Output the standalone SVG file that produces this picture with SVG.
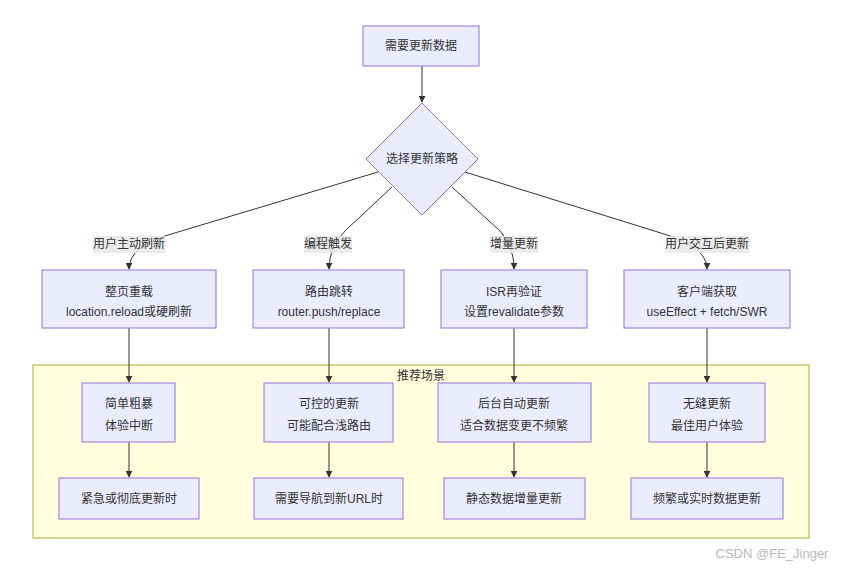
<svg xmlns="http://www.w3.org/2000/svg" width="846" height="569" viewBox="0 0 846 569">
<style>
text{font-family:"Liberation Sans","Noto Sans CJK SC",sans-serif;font-size:12px;fill:#333;text-anchor:middle;dominant-baseline:central}
.n{fill:#ECECFF;stroke:#9370DB;stroke-width:1}
.e{fill:none;stroke:#333;stroke-width:1}
.lb{fill:#e8e8e8;opacity:0.85}
</style>
<defs>
<marker id="ah" viewBox="0 0 10 10" refX="9" refY="5" markerWidth="7" markerHeight="7" orient="auto" markerUnits="userSpaceOnUse">
<path d="M0,0 L10,5 L0,10 z" fill="#333"/>
</marker>
</defs>
<rect width="846" height="569" fill="#fff"/>
<g id="cluster">
<rect x="33" y="365" width="776" height="173" fill="#ffffde" stroke="#aaaa33" stroke-width="1"/>
<text x="421" y="376">推荐场景</text>
</g>
<g id="connectors">
<path class="e" d="M422,66 L422,102" marker-end="url(#ah)"/>
<path class="e" d="M378,172 L168,235 Q129,247 129,269" marker-end="url(#ah)"/>
<path class="e" d="M392,187 L346,230 Q329,246 329,269" marker-end="url(#ah)"/>
<path class="e" d="M452,187 L500,231 Q514,246 514,269" marker-end="url(#ah)"/>
<path class="e" d="M465,172 L664,234 Q707,247 707,269" marker-end="url(#ah)"/>
<path class="e" d="M129,328 L129,382" marker-end="url(#ah)"/>
<path class="e" d="M329,328 L329,382" marker-end="url(#ah)"/>
<path class="e" d="M514,328 L514,382" marker-end="url(#ah)"/>
<path class="e" d="M707,328 L707,382" marker-end="url(#ah)"/>
<path class="e" d="M129,442 L129,477" marker-end="url(#ah)"/>
<path class="e" d="M329,442 L329,477" marker-end="url(#ah)"/>
<path class="e" d="M514,442 L514,477" marker-end="url(#ah)"/>
<path class="e" d="M707,442 L707,477" marker-end="url(#ah)"/>
<rect class="lb" x="93" y="236" width="72" height="17"/>
<text x="129" y="244">用户主动刷新</text>
<rect class="lb" x="304" y="236" width="48" height="17"/>
<text x="328" y="244">编程触发</text>
<rect class="lb" x="490" y="236" width="48" height="17"/>
<text x="514" y="244">增量更新</text>
<rect class="lb" x="666" y="236" width="83" height="17"/>
<text x="707" y="244">用户交互后更新</text>
</g>
<g id="start"><rect class="n" x="363" y="26" width="116" height="40"/><text x="421" y="46">需要更新数据</text></g>
<g id="decide"><polygon class="n" points="422,103 478,159 422,215 366,159"/><text x="422" y="159">选择更新策略</text></g>
<g id="reload"><rect class="n" x="42" y="270" width="174" height="58"/><text x="129" y="292">整页重载</text><text x="129" y="312">location.reload或硬刷新</text></g>
<g id="router"><rect class="n" x="253" y="270" width="151" height="58"/><text x="329" y="292">路由跳转</text><text x="329" y="312">router.push/replace</text></g>
<g id="isr"><rect class="n" x="441" y="270" width="146" height="58"/><text x="514" y="292">ISR再验证</text><text x="514" y="312">设置revalidate参数</text></g>
<g id="client"><rect class="n" x="624" y="270" width="166" height="58"/><text x="707" y="292">客户端获取</text><text x="707" y="312">useEffect + fetch/SWR</text></g>
<g id="p1"><rect class="n" x="82" y="383" width="93" height="59"/><text x="129" y="404">简单粗暴</text><text x="129" y="426">体验中断</text></g>
<g id="p2"><rect class="n" x="264" y="383" width="129" height="59"/><text x="329" y="404">可控的更新</text><text x="329" y="426">可能配合浅路由</text></g>
<g id="p3"><rect class="n" x="438" y="383" width="153" height="59"/><text x="514" y="404">后台自动更新</text><text x="514" y="426">适合数据变更不频繁</text></g>
<g id="p4"><rect class="n" x="649" y="383" width="116" height="59"/><text x="707" y="404">无缝更新</text><text x="707" y="426">最佳用户体验</text></g>
<g id="s1"><rect class="n" x="59" y="478" width="140" height="41"/><text x="129" y="499">紧急或彻底更新时</text></g>
<g id="s2"><rect class="n" x="254" y="478" width="149" height="41"/><text x="329" y="499">需要导航到新URL时</text></g>
<g id="s3"><rect class="n" x="444" y="478" width="141" height="41"/><text x="514" y="499">静态数据增量更新</text></g>
<g id="s4"><rect class="n" x="631" y="478" width="152" height="41"/><text x="707" y="499">频繁或实时数据更新</text></g>
<text x="772" y="553" style="fill:#b8b8b8;font-size:13px">CSDN @FE_Jinger</text>
</svg>
